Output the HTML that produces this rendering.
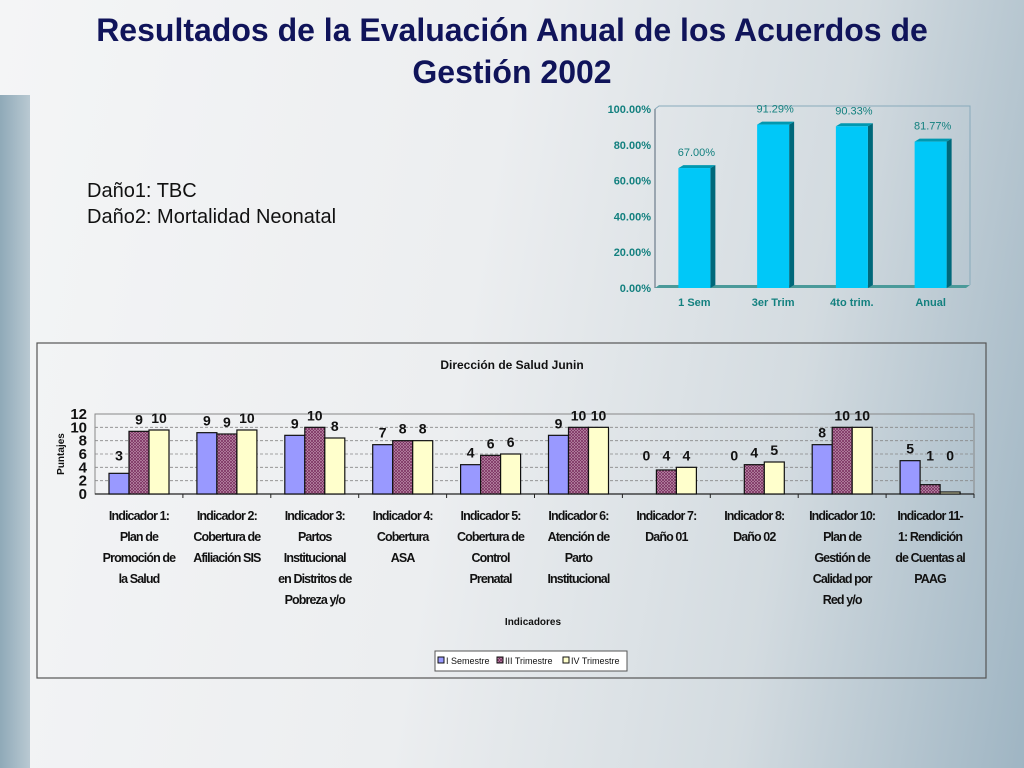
<!DOCTYPE html>
<html><head><meta charset="utf-8"><style>
html,body{margin:0;padding:0;}
body{width:1024px;height:768px;overflow:hidden;position:relative;font-family:"Liberation Sans",sans-serif;
background:linear-gradient(100deg,#f4f5f6 0%,#eceef0 45%,#d3dbe0 75%,#9fb5c3 100%);}
#strip{position:absolute;left:0;top:95px;width:30px;height:673px;background:linear-gradient(90deg,#8fa9b8,#b9c9d2);}
#title{position:absolute;left:0;top:9px;width:1024px;text-align:center;color:#10145a;font-weight:bold;font-size:32px;line-height:42px;}
#notes{position:absolute;left:87px;top:178px;font-size:20px;line-height:26px;color:#111;}
svg text{font-family:"Liberation Sans",sans-serif;}
</style></head><body>
<div id="strip"></div>
<div id="title">Resultados de la Evaluación Anual de los Acuerdos de<br>Gestión 2002</div>
<div id="notes">Daño1: TBC<br>Daño2: Mortalidad Neonatal</div>
<svg id="top" width="1024" height="768" style="position:absolute;left:0;top:0"></svg>
<script>
const topCats=["1 Sem","3er Trim","4to trim.","Anual"];
const topVals=[67.00,91.29,90.33,81.77];
const topTicks=[0,20,40,60,80,100];
const catsB=[["Indicador 1:","Plan de","Promoción de","la Salud"],["Indicador 2:","Cobertura de","Afiliación SIS"],["Indicador 3:","Partos","Institucional","en Distritos de","Pobreza y/o"],["Indicador 4:","Cobertura","ASA"],["Indicador 5:","Cobertura de","Control","Prenatal"],["Indicador 6:","Atención de","Parto","Institucional"],["Indicador 7:","Daño 01"],["Indicador 8:","Daño 02"],["Indicador 10:","Plan de","Gestión de","Calidad por","Red y/o"],["Indicador 11-","1: Rendición","de Cuentas al","PAAG"]];
const semI=[3.1,9.2,8.8,7.4,4.4,8.8,0,0,7.4,5];
const trimIII=[9.4,9.0,10,8,5.8,10,3.6,4.4,10,1.4];
const trimIV=[9.6,9.6,8.4,8,6,10,4,4.8,10,0.3];
const labI=["3","9","9","7","4","9","0","0","8","5"];
const labIII=["9","9","10","8","6","10","4","4","10","1"];
const labIV=["10","10","8","8","6","10","4","5","10","0"];
const yTicksB=[0,2,4,6,8,10,12];
const seriesNames=["I Semestre","III Trimestre","IV Trimestre"];

const NS="http://www.w3.org/2000/svg";
const svg=document.getElementById('top');
function mk(tag,attrs,parent,txt){const e=document.createElementNS(NS,tag);for(const k in attrs)e.setAttribute(k,attrs[k]);if(txt!==undefined)e.textContent=txt;(parent||svg).appendChild(e);return e;}
const defs=mk('defs',{});
const pat=mk('pattern',{id:'hatch',width:3,height:3,patternUnits:'userSpaceOnUse'},defs);
mk('rect',{width:3,height:3,fill:'#c9a0b8'},pat);
mk('path',{d:'M0,0L3,3M3,0L0,3',stroke:'#7a3060','stroke-width':0.8},pat);

// top chart
const tx0=655,tx1=970,ty0=288,ty1=109;
const ty=v=>ty0-(v/100)*(ty0-ty1);
const tw=(tx1-tx0)/topCats.length;
let g=mk('g',{});

mk('polyline',{points:`${tx0},${ty1} ${tx0+4},${ty1-3} ${tx1},${ty1-3} ${tx1},${ty0-3}`,fill:'none',stroke:'#8ab','stroke-width':1},g);
mk('line',{x1:tx0,y1:ty1,x2:tx0,y2:ty0,stroke:'#567','stroke-width':1},g);
mk('polygon',{points:`${tx0},${ty0} ${tx0+4},${ty0-3} ${tx1},${ty0-3} ${tx1-4},${ty0}`,fill:'#4a9a9a'},g);
topTicks.forEach(t=>{const e=mk('text',{x:tx0-4,y:ty(t)+4,'text-anchor':'end','font-size':11,fill:'#13807f','font-weight':'bold'},g,t.toFixed(2)+'%');
});
topCats.forEach((c,i)=>{const cx=tx0+tw*(i+0.5);const bw=32,x=cx-bw/2,y=ty(topVals[i]);
const b=mk('g',{});
mk('polygon',{points:`${x+bw},${y} ${x+bw+5},${y-3} ${x+bw+5},${ty0-3} ${x+bw},${ty0}`,fill:'#00687a'},b);
mk('polygon',{points:`${x},${y} ${x+5},${y-3} ${x+bw+5},${y-3} ${x+bw},${y}`,fill:'#0098b0'},b);
mk('rect',{x:x,y:y,width:bw,height:ty0-y,fill:'#00c8f8'},b);
const l=mk('text',{x:cx+2,y:y-12,'text-anchor':'middle','font-size':11,fill:'#13807f'},svg,topVals[i].toFixed(2)+'%');

const cl=mk('text',{x:cx,y:306,'text-anchor':'middle','font-size':11,fill:'#13807f','font-weight':'bold'},svg,c);
});

// bottom chart
const box=mk('rect',{x:37,y:343,width:949,height:335,fill:'none',stroke:'#555','stroke-width':1.2});

const bt=mk('text',{x:512,y:369,'text-anchor':'middle','font-size':12,'font-weight':'bold',fill:'#111'},svg,'Dirección de Salud Junin');

const bx0=95,bx1=974,by0=494,by1=414;
const by=v=>by0-(v/12)*(by0-by1);
const cw=(bx1-bx0)/catsB.length;
mk('rect',{x:bx0,y:by1,width:bx1-bx0,height:by0-by1,fill:'none',stroke:'#888','stroke-width':1});
yTicksB.forEach(t=>{if(t>0&&t<12)mk('line',{x1:bx0,x2:bx1,y1:by(t),y2:by(t),stroke:'#888','stroke-dasharray':'3,2','stroke-width':0.8});
const e=mk('text',{x:bx0-8,y:by(t)+5,'text-anchor':'end','font-size':15,'font-weight':'bold',fill:'#111'},svg,t);
});
mk('line',{x1:bx0,x2:bx1,y1:by0,y2:by0,stroke:'#222','stroke-width':1.2});
const yt=mk('text',{x:0,y:0,'font-size':10,'font-weight':'bold',fill:'#111','text-anchor':'middle',transform:`translate(64,${by(6)}) rotate(-90)`},svg,'Puntajes');

const fills=['#9999ff','url(#hatch)','#ffffcc'];
const vals=[semI,trimIII,trimIV],labs=[labI,labIII,labIV];
catsB.forEach((lines,i)=>{const gx=bx0+cw*i;
mk('line',{x1:gx+cw,x2:gx+cw,y1:by0,y2:by0+4,stroke:'#222'});
for(let s=0;s<3;s++){const x=gx+14+s*20,v=vals[s][i],y=by(v);
const r=mk('rect',{x:x,y:y,width:20,height:by0-y,fill:fills[s],stroke:'#111','stroke-width':1.2});

const l=mk('text',{x:x+10,y:Math.min(y,by(4))-7,'text-anchor':'middle','font-size':14,'font-weight':'bold',fill:'#111'},svg,labs[s][i]);
}
lines.forEach((t,k)=>{const e=mk('text',{x:gx+cw/2,y:520+k*21,'text-anchor':'middle','font-size':12.5,'font-weight':'bold',fill:'#111','letter-spacing':'-0.9'},svg,t);
});});
const xt=mk('text',{x:533,y:625,'text-anchor':'middle','font-size':10,'font-weight':'bold',fill:'#111'},svg,'Indicadores');

const lg=mk('g',{});
mk('rect',{x:435,y:651,width:192,height:20,fill:'#fff',stroke:'#555'},lg);
const lx=[438,497,563];
seriesNames.forEach((n,s)=>{const it=mk('g',{},lg);
mk('rect',{x:lx[s],y:657,width:6,height:6,fill:fills[s],stroke:'#111'},it);
mk('text',{x:lx[s]+8,y:664,'font-size':9,fill:'#111'},it,n);});
</script>
</body></html>
